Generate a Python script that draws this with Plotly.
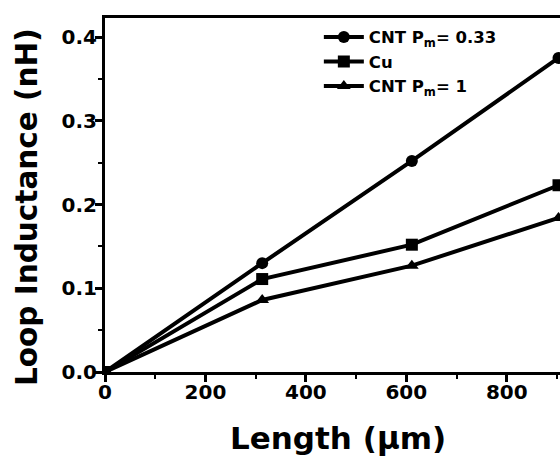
import plotly.graph_objects as go

length_um = [0, 313, 611, 903]
cnt_033 = [0, 0.130, 0.252, 0.375]
cu = [0, 0.111, 0.152, 0.223]
cnt_1 = [0, 0.086, 0.127, 0.184]

names = ["CNT P<sub>m</sub>= 0.33", "Cu", "CNT P<sub>m</sub>= 1"]
symbols = ["circle", "square", "triangle-up"]
series = [cnt_033, cu, cnt_1]

x_title = "Length (μm)"
y_title = "Loop Inductance (nH)"

FONT = "DejaVu Sans"

fig = go.Figure()
for name, sym, ys in zip(names, symbols, series):
    fig.add_trace(go.Scatter(
        x=length_um, y=ys, name=name, mode="lines+markers",
        line=dict(color="black", width=4),
        marker=dict(symbol=sym, size=12, color="black"),
    ))

axis_common = dict(
    showline=True, linecolor="black", linewidth=3,
    ticks="outside", ticklen=7, tickwidth=3, tickcolor="black",
    showgrid=False, zeroline=False,
    tickfont=dict(family=FONT, size=20, color="black", weight="bold"),
)

fig.update_layout(
    width=560, height=464,
    margin=dict(l=105, r=0, t=18, b=92),
    paper_bgcolor="white", plot_bgcolor="white",
    font=dict(family=FONT, color="black"),
    xaxis=dict(
        range=[0, 906], tickvals=[0, 200, 400, 600, 800],
        mirror=True, ticklabelstandoff=-7,
        minor=dict(ticks="outside", ticklen=4, tickwidth=2, dtick=100, tick0=0, tickcolor="black"),
        **axis_common,
    ),
    yaxis=dict(
        range=[0, 0.4227], tickvals=[0, 0.1, 0.2, 0.3, 0.4], tickformat=".1f",
        mirror=False, ticklabelstandoff=-6,
        minor=dict(ticks="outside", ticklen=4, tickwidth=2, dtick=0.05, tick0=0, tickcolor="black"),
        **axis_common,
    ),
    legend=dict(
        x=0.47, y=0.995, xanchor="left", yanchor="top",
        bgcolor="rgba(0,0,0,0)", borderwidth=0,
        font=dict(family=FONT, size=16.5, color="black", weight="bold"),
        itemwidth=40, tracegroupgap=0,
    ),
    showlegend=True,
    annotations=[
        dict(text=x_title, xref="paper", yref="paper", x=(338 - 105) / 455, y=-(438 - 372) / 354,
             xanchor="center", yanchor="middle", showarrow=False,
             font=dict(family=FONT, size=31, color="black", weight="bold")),
        dict(text=y_title, xref="paper", yref="paper", x=-(105 - 27) / 455, y=(372 - 207) / 354,
             xanchor="center", yanchor="middle", showarrow=False, textangle=-90,
             font=dict(family=FONT, size=29.5, color="black", weight="bold")),
    ],
)

fig.write_html("out.html")
